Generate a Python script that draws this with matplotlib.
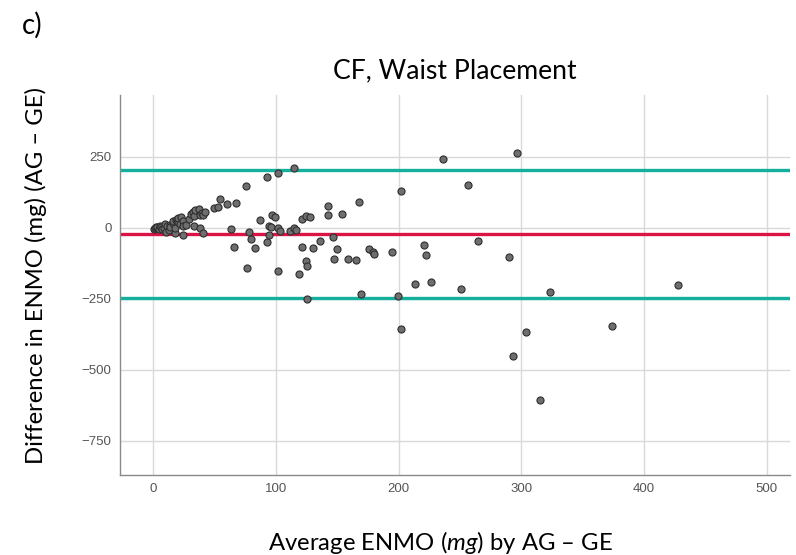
import matplotlib
matplotlib.use('Agg')
import matplotlib.pyplot as plt

# Bland-Altman data (mean ENMO vs difference, mg)
avg_enmo = [0.5, 1.5, 2.5, 3.5, 4.5, 5.5, 6.5, 7.5, 8.5, 9.5, 10.5, 11, 12.5, 13.5, 14,
            16, 16.5, 17.5, 18, 18.5, 19.5, 20.5, 20.5, 22, 22.5, 24, 24.5, 24.7, 27, 29,
            30.5, 32.5, 33, 33.5, 34, 37, 38, 38.5, 40, 40.5, 40.5, 42,
            49.7, 53, 54.5, 60, 63.5, 65.5, 67.7, 76, 76.5, 78, 80, 83, 87, 92.5, 93, 94,
            94.8, 96.2, 97, 99, 101.6, 101.6, 102, 103, 111.7, 114.4, 114.5, 116, 119, 121,
            121, 124.5, 124.2, 125.3, 125.5, 128, 130, 136, 142.7, 142.7, 146.5, 147.5, 150,
            154, 158.4, 165, 167.4, 169.3, 175.5, 179, 180, 194.6, 199.5, 201.6, 201.9,
            213.3, 221, 222.3, 226.6, 236, 251, 256.8, 264.4, 289.7, 292.9, 296.5, 303.5,
            315, 323, 374, 428]
diff_enmo = [-2, 1, 3, 5, -3, 8, 2, -4, 0, 14, -16, 6, -7, 10, 4,
             19, 25, -19, -1, 28, 31, 22, 34, 15, 40, 24, 7, -26, 12, 30,
             50, 57, 7, 42, 63, 66, 47, 1, 54, 46, -19, 57,
             69, 75, 102, 86, -5, -67, 88, 147, -140, -13, -40, -72, 27, 181, -51, -24,
             7, 2, 45, 40, 195, -152, 1, -11, -10, 1, 210, -7, -163, 31,
             -67, 42, -117, -134, -249, 40, -72, -46, 77, 47, -33, -110, -73,
             48, -108, -114, 91, -231, -74, -84, -92, -85, -240, 131, -357,
             -196, -59, -94, -189, 243, -214, 150, -45, -102, -452, 264, -365,
             -605, -225, -345, -202]

mean_diff = -21.5
upper_loa = 203
lower_loa = -246

x_ticks = [0, 100, 200, 300, 400, 500]
y_ticks = [250, 0, -250, -500, -750]

plt.rcParams['mathtext.fontset'] = 'custom'
plt.rcParams['mathtext.rm'] = 'Lato'
plt.rcParams['mathtext.it'] = 'Lato:italic'

fig = plt.figure(figsize=(7.96, 5.55), dpi=100)
ax = fig.add_axes([0.1508, 0.1441, 0.8417, 0.6847])

ax.set_xlim(-27, 519)
ax.set_ylim(-870, 468)
ax.set_xticks(x_ticks)
ax.set_yticks(y_ticks)
ax.grid(True, color='#d9d9d9', linewidth=1)
ax.set_axisbelow(True)

ax.axhline(upper_loa, color='#14b09c', linewidth=2.4, zorder=2)
ax.axhline(lower_loa, color='#14b09c', linewidth=2.4, zorder=2)
ax.axhline(mean_diff, color='#dc1446', linewidth=2.4, zorder=2)

ax.scatter(avg_enmo, diff_enmo, s=26, color='#6e6e6e', edgecolors='#2e2e2e',
           linewidths=0.8, zorder=3)

for side in ['top', 'right']:
    ax.spines[side].set_visible(False)
for side in ['left', 'bottom']:
    ax.spines[side].set_color('#8a8a8a')
    ax.spines[side].set_linewidth(1)

ax.tick_params(length=0, pad=6, labelsize=9.5, labelcolor='#555555')
for lab in ax.get_xticklabels() + ax.get_yticklabels():
    lab.set_family('Liberation Sans')

ax.set_title('CF, Waist Placement', family='Lato', fontsize=19.2, pad=12)
ax.set_xlabel('Average ENMO ($\\it{mg}$) by AG \u2013 GE', family='Lato', fontsize=17.2)
ax.xaxis.set_label_coords(0.479, -0.142)
ax.set_ylabel('Difference in ENMO (mg) (AG \u2013 GE)', family='Lato', fontsize=17.2)
ax.yaxis.set_label_coords(-0.109, 0.526)

fig.text(0.027, 0.94, 'c)', family='Lato', fontsize=20)

fig.savefig('out.png', dpi=100)
